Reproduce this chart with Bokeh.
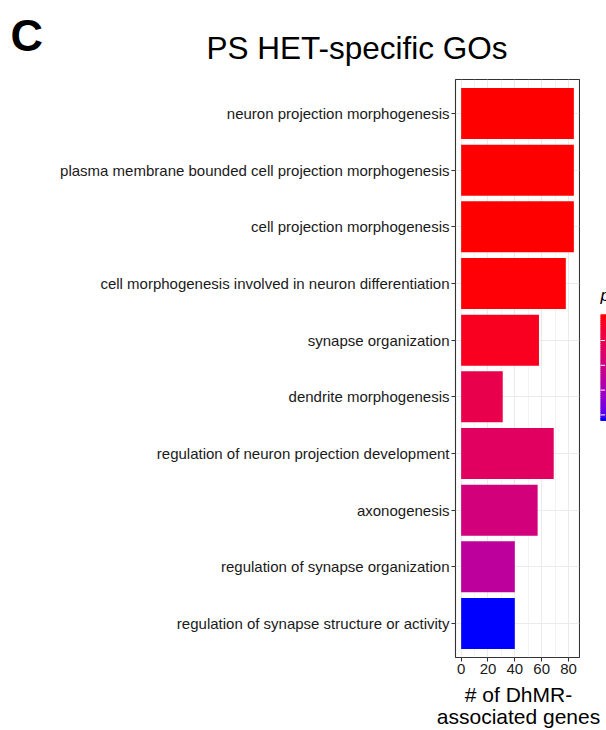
import numpy as np
from bokeh.plotting import figure
from bokeh.layouts import column, row
from bokeh.models import (FactorRange, Range1d, ColumnDataSource, LinearColorMapper,
                          FixedTicker)
from bokeh.core.properties import value
from bokeh.transform import transform
from bokeh.embed import file_html
from bokeh.resources import INLINE

# ---------------- data ----------------
go_terms = [
    "neuron projection morphogenesis",
    "plasma membrane bounded cell projection morphogenesis",
    "cell projection morphogenesis",
    "cell morphogenesis involved in neuron differentiation",
    "synapse organization",
    "dendrite morphogenesis",
    "regulation of neuron projection development",
    "axonogenesis",
    "regulation of synapse organization",
    "regulation of synapse structure or activity",
]
gene_counts = [84, 84, 84, 78, 58, 31, 69, 57, 40, 40]
p_adjust = [0.0504, 0.0504, 0.0503, 0.0500, 0.0474, 0.0402, 0.0368, 0.0317, 0.0257, 0.0078]
x_ticks = [0, 20, 40, 60, 80]
x_minor_ticks = [10, 30, 50, 70]
cbar_ticks = [0.01, 0.02, 0.03, 0.04]

title_text = "PS HET-specific GOs"
panel_tag = "C"
x_title_lines = ["# of DhMR-", "associated genes"]
legend_title = "p.adjust"

FONT = "Liberation Sans"


# ------------- CIELAB gradient (like ggplot's continuous scale) -------------
def _hex_to_lab(h):
    rgb = [int(h[i:i + 2], 16) / 255 for i in (1, 3, 5)]
    lin = [((c + 0.055) / 1.055) ** 2.4 if c > 0.04045 else c / 12.92 for c in rgb]
    r, g, b = lin
    X = (0.4124 * r + 0.3576 * g + 0.1805 * b) / 0.95047
    Y = (0.2126 * r + 0.7152 * g + 0.0722 * b)
    Z = (0.0193 * r + 0.1192 * g + 0.9505 * b) / 1.08883
    f = lambda t: t ** (1 / 3) if t > 0.008856 else 7.787 * t + 16 / 116
    fx, fy, fz = f(X), f(Y), f(Z)
    return (116 * fy - 16, 500 * (fx - fy), 200 * (fy - fz))


def _lab_to_hex(L, a, b):
    fy = (L + 16) / 116
    fx = fy + a / 500
    fz = fy - b / 200
    inv = lambda t: t ** 3 if t ** 3 > 0.008856 else (t - 16 / 116) / 7.787
    X, Y, Z = inv(fx) * 0.95047, inv(fy), inv(fz) * 1.08883
    r = 3.2406 * X - 1.5372 * Y - 0.4986 * Z
    g = -0.9689 * X + 1.8758 * Y + 0.0415 * Z
    bb = 0.0557 * X - 0.2040 * Y + 1.0570 * Z
    out = []
    for c in (r, g, bb):
        c = min(max(c, 0.0), 1.0)
        c = 1.055 * c ** (1 / 2.4) - 0.055 if c > 0.0031308 else 12.92 * c
        out.append(int(round(min(max(c, 0), 1) * 255)))
    return "#%02x%02x%02x" % tuple(out)


def lab_ramp(c0, c1, n=256):
    l0, l1 = np.array(_hex_to_lab(c0)), np.array(_hex_to_lab(c1))
    return [_lab_to_hex(*(l0 + (l1 - l0) * t)) for t in np.linspace(0, 1, n)]


palette = lab_ramp("#0000ff", "#ff0000", 256)
p_lo, p_hi = min(p_adjust), max(p_adjust)
mapper = LinearColorMapper(palette=palette, low=p_lo, high=p_hi)

source = ColumnDataSource(dict(term=go_terms, count=gene_counts, p=p_adjust))


def blank(width, height, y_start, y_end):
    f = figure(width=width, height=height, x_range=Range1d(0, width),
               y_range=Range1d(y_start, y_end), output_backend="svg",
               toolbar_location=None, x_axis_type=None, y_axis_type=None, min_border=0)
    f.outline_line_color = None
    f.grid.visible = False
    return f


# ---------------- header (panel tag + title) ----------------
header = blank(606, 78, 78, 0)
header.text(x=[10], y=[34.8], text=[panel_tag], text_font=value(FONT),
            text_font_size="45px", text_font_style="bold", text_color="#000000",
            text_align="left", text_baseline="middle")
header.text(x=[206], y=[47.3], text=[title_text], text_font=value(FONT),
            text_font_size="31.5px", text_color="#000000",
            text_align="left", text_baseline="middle")

# ---------------- main bar chart ----------------
p = figure(width=580, height=602,
           y_range=FactorRange(factors=go_terms[::-1], range_padding=0.1,
                               range_padding_units="absolute"),
           x_range=Range1d(-4.2, 88.2),
           output_backend="svg", toolbar_location=None,
           min_border_left=455, min_border_right=1,
           min_border_top=1, min_border_bottom=23)

p.hbar(y="term", left=0, right="count", height=0.9, source=source,
       fill_color=transform("p", mapper), line_color=None)

p.outline_line_color = "#333333"
p.outline_line_width = 1.1
p.xgrid.grid_line_color = "#ebebeb"
p.xgrid.grid_line_width = 1.1
p.xgrid.minor_grid_line_color = "#ebebeb"
p.xgrid.minor_grid_line_width = 0.6
p.ygrid.grid_line_color = "#ebebeb"
p.ygrid.grid_line_width = 1.1

p.xaxis.ticker = FixedTicker(ticks=x_ticks, minor_ticks=x_minor_ticks)
for ax in (p.xaxis[0], p.yaxis[0]):
    ax.axis_line_color = None
    ax.major_tick_line_color = "#333333"
    ax.major_tick_line_width = 1.1
    ax.major_tick_out = 4
    ax.major_tick_in = 0
    ax.minor_tick_line_color = None
    ax.major_label_text_font = FONT
    ax.major_label_text_color = "#1a1a1a"
    ax.major_label_text_font_size = "15px"
p.xaxis.major_label_standoff = 2
p.yaxis.major_label_standoff = 2

# ---------------- colour-bar legend strip (cut by the window edge, as in the reference) ----------------
# the strip spans page rows 78..680; the gradient runs from p_lo (row 433) to p_hi (row 323)
px_per_unit = 110 / (p_hi - p_lo)
leg_bottom = p_lo - (680 - 433) / px_per_unit
leg_top = p_hi + (323 - 78) / px_per_unit
leg = blank(26, 602, leg_bottom, leg_top)
n_steps = 55
levels = np.linspace(p_lo, p_hi, n_steps + 1)
mids = (levels[:-1] + levels[1:]) / 2
leg.hbar(y=mids, left=20, right=45, height=(p_hi - p_lo) / n_steps * 1.6,
         fill_color=transform("y", mapper), fill_alpha=1.0, line_color=None)
leg.hbar(y=[p_lo + (p_hi - p_lo) * 0.01], left=20, right=45,
         height=(p_hi - p_lo) * 0.02, fill_color=palette[0], line_color=None)
leg.segment(x0=[20] * len(cbar_ticks), x1=[24.6] * len(cbar_ticks),
            y0=cbar_ticks, y1=cbar_ticks, line_color="white", line_width=1)
leg.text(x=[20], y=[p_hi + (323 - 303) / px_per_unit], text=[legend_title],
         text_font=value(FONT), text_font_size="17px", text_font_style="italic",
         text_color="#000000", text_align="left", text_baseline="middle")

# ---------------- footer (x axis title, two lines centred on the panel) ----------------
footer = blank(606, 50, 730, 680)
footer.text(x=[518, 518], y=[694.3, 715.9], text=x_title_lines, text_font=value(FONT),
            text_font_size="21px", text_color="#000000",
            text_align="center", text_baseline="middle")

layout = column(header, row(p, leg, spacing=0), footer, spacing=0)

open("out.html", "w").write(file_html(layout, INLINE))
